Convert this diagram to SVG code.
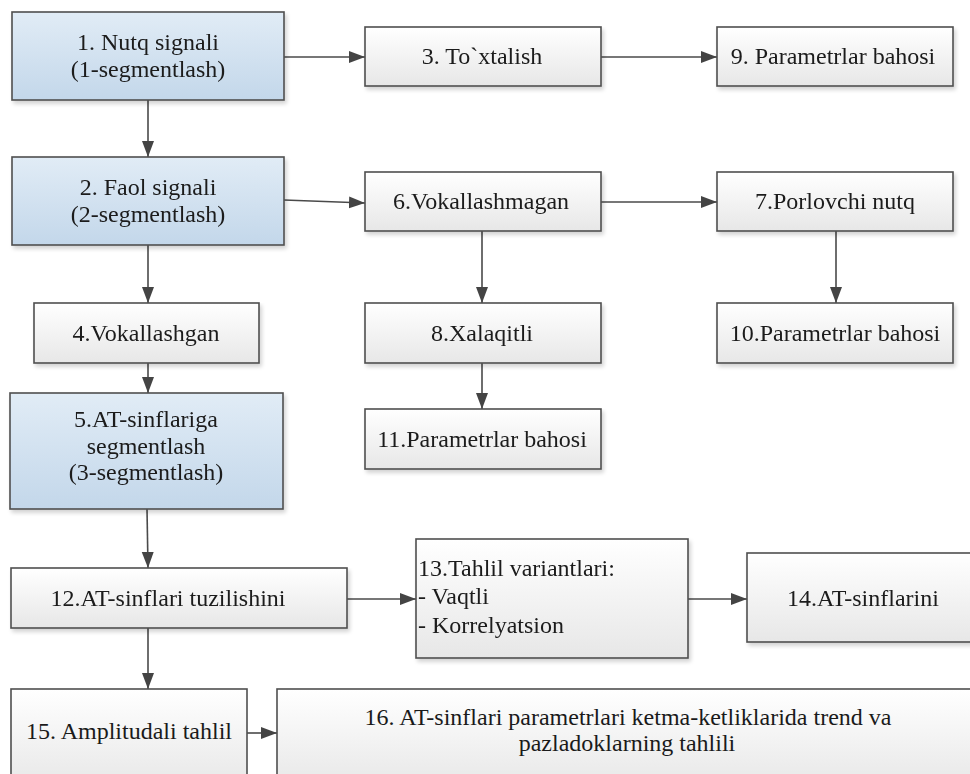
<svg xmlns="http://www.w3.org/2000/svg" width="970" height="774" viewBox="0 0 970 774" font-family="Liberation Serif, DejaVu Serif, serif">
  <style>
    .box { stroke: #4f4f4f; stroke-width: 1.6; fill: url(#gWhite); }
    .blue { fill: url(#gBlue); }
    .lbl { font-size: 24px; fill: #1a1a1a; text-anchor: middle; }
    .left { text-anchor: start; }
    .edge { stroke: #4a4a4a; stroke-width: 1.6; fill: none; marker-end: url(#arrow); }
  </style>
  <defs>
    <linearGradient id="gWhite" x1="0" y1="0" x2="0" y2="1">
      <stop offset="0" stop-color="#ffffff"/>
      <stop offset="1" stop-color="#e7e7e7"/>
    </linearGradient>
    <linearGradient id="gBlue" x1="0" y1="0" x2="0" y2="1">
      <stop offset="0" stop-color="#e1ecf6"/>
      <stop offset="1" stop-color="#c3d7ea"/>
    </linearGradient>
    <filter id="shadow" x="-5%" y="-5%" width="115%" height="125%">
      <feGaussianBlur in="SourceAlpha" stdDeviation="2"/>
      <feOffset dx="2" dy="3" result="b"/>
      <feComponentTransfer><feFuncA type="linear" slope="0.18"/></feComponentTransfer>
      <feMerge><feMergeNode/><feMergeNode in="SourceGraphic"/></feMerge>
    </filter>
    <marker id="arrow" markerUnits="userSpaceOnUse" markerWidth="16" markerHeight="14" viewBox="0 0 16 14" refX="16" refY="7" orient="auto">
      <path d="M0,1 L16,7 L0,13 Z" fill="#444"/>
    </marker>
  </defs>

  <rect width="970" height="774" fill="#ffffff"/>

  <g id="connectors">
    <line class="edge" x1="284" y1="57" x2="365" y2="57"/>
    <line class="edge" x1="601" y1="57" x2="717" y2="57"/>
    <line class="edge" x1="148" y1="100" x2="148" y2="157"/>
    <line class="edge" x1="284" y1="200" x2="365" y2="203"/>
    <line class="edge" x1="601" y1="202" x2="717" y2="202"/>
    <line class="edge" x1="148" y1="245" x2="148" y2="303"/>
    <line class="edge" x1="482" y1="231" x2="482" y2="303"/>
    <line class="edge" x1="836" y1="231" x2="836" y2="303"/>
    <line class="edge" x1="148" y1="363" x2="148" y2="393"/>
    <line class="edge" x1="482" y1="363" x2="482" y2="409"/>
    <line class="edge" x1="147" y1="509" x2="148" y2="568"/>
    <line class="edge" x1="347" y1="599" x2="416" y2="599"/>
    <line class="edge" x1="688" y1="599" x2="747" y2="599"/>
    <line class="edge" x1="148" y1="628" x2="148" y2="689"/>
    <line class="edge" x1="247" y1="733" x2="277" y2="733"/>
  </g>

  <g id="n1" filter="url(#shadow)">
    <rect class="box blue" x="12" y="12" width="272" height="88"/>
    <text class="lbl" x="148" y="50">1. Nutq signali</text>
    <text class="lbl" x="148" y="77">(1-segmentlash)</text>
  </g>
  <g id="n2" filter="url(#shadow)">
    <rect class="box blue" x="12" y="157" width="272" height="88"/>
    <text class="lbl" x="148" y="195">2. Faol signali</text>
    <text class="lbl" x="148" y="222">(2-segmentlash)</text>
  </g>
  <g id="n3" filter="url(#shadow)">
    <rect class="box" x="365" y="27" width="236" height="59"/>
    <text class="lbl" x="482" y="64">3. To`xtalish</text>
  </g>
  <g id="n9" filter="url(#shadow)">
    <rect class="box" x="717" y="27" width="236" height="59"/>
    <text class="lbl" x="833" y="64">9. Parametrlar bahosi</text>
  </g>
  <g id="n6" filter="url(#shadow)">
    <rect class="box" x="365" y="172" width="236" height="59"/>
    <text class="lbl" x="481" y="209">6.Vokallashmagan</text>
  </g>
  <g id="n7" filter="url(#shadow)">
    <rect class="box" x="717" y="172" width="236" height="59"/>
    <text class="lbl" x="835" y="209">7.Porlovchi nutq</text>
  </g>
  <g id="n4" filter="url(#shadow)">
    <rect class="box" x="34" y="303" width="225" height="60"/>
    <text class="lbl" x="146" y="341">4.Vokallashgan</text>
  </g>
  <g id="n8" filter="url(#shadow)">
    <rect class="box" x="365" y="303" width="236" height="60"/>
    <text class="lbl" x="482" y="341">8.Xalaqitli</text>
  </g>
  <g id="n10" filter="url(#shadow)">
    <rect class="box" x="717" y="303" width="236" height="60"/>
    <text class="lbl" x="835" y="341">10.Parametrlar bahosi</text>
  </g>
  <g id="n5" filter="url(#shadow)">
    <rect class="box blue" x="10" y="393" width="273" height="116"/>
    <text class="lbl" x="146" y="427">5.AT-sinflariga</text>
    <text class="lbl" x="146" y="454">segmentlash</text>
    <text class="lbl" x="146" y="480">(3-segmentlash)</text>
  </g>
  <g id="n11" filter="url(#shadow)">
    <rect class="box" x="365" y="409" width="236" height="60"/>
    <text class="lbl" x="482" y="447">11.Parametrlar bahosi</text>
  </g>
  <g id="n12" filter="url(#shadow)">
    <rect class="box" x="11" y="568" width="336" height="60"/>
    <text class="lbl" x="168" y="606">12.AT-sinflari tuzilishini</text>
  </g>
  <g id="n13" filter="url(#shadow)">
    <rect class="box" x="416" y="539" width="272" height="119"/>
    <text class="lbl left" x="418" y="576">13.Tahlil variantlari:</text>
    <text class="lbl left" x="418" y="604">- Vaqtli</text>
    <text class="lbl left" x="418" y="633">- Korrelyatsion</text>
  </g>
  <g id="n14" filter="url(#shadow)">
    <rect class="box" x="747" y="553" width="232" height="89"/>
    <text class="lbl" x="863" y="606">14.AT-sinflarini</text>
  </g>
  <g id="n15">
    <rect class="box" x="11" y="689" width="236" height="100"/>
    <text class="lbl" x="129" y="739">15. Amplitudali tahlil</text>
  </g>
  <g id="n16">
    <rect class="box" x="277" y="689" width="702" height="100"/>
    <text class="lbl" x="628" y="725">16. AT-sinflari parametrlari ketma-ketliklarida trend va</text>
    <text class="lbl" x="627" y="751">pazladoklarning tahlili</text>
  </g>
</svg>
